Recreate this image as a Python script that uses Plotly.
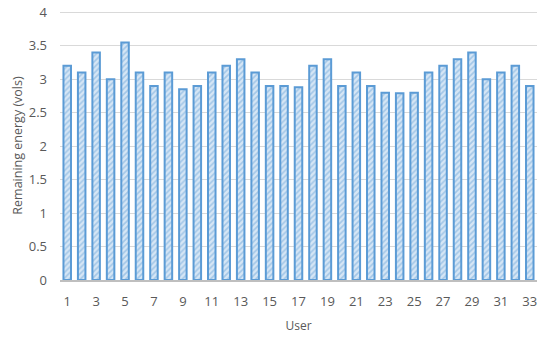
import plotly.graph_objects as go

users = list(range(1, 34))
energy = [3.2, 3.1, 3.4, 3.0, 3.55, 3.1, 2.9, 3.1, 2.85, 2.9, 3.1, 3.2, 3.3, 3.1, 2.9,
          2.9, 2.88, 3.2, 3.3, 2.9, 3.1, 2.9, 2.8, 2.79, 2.8, 3.1, 3.2, 3.3, 3.4, 3.0,
          3.1, 3.2, 2.9]
x_ticks = list(range(1, 34, 2))
y_ticks = [0, 0.5, 1, 1.5, 2, 2.5, 3, 3.5, 4]

fig = go.Figure(go.Bar(
    x=users, y=energy, width=0.52,
    marker=dict(
        color="#C9DEF2",
        line=dict(color="#5B9BD5", width=2),
        pattern=dict(shape="/", fgcolor="#6FA7DA", bgcolor="#D6E6F5", size=4, solidity=0.4),
    ),
))

font = dict(family="Open Sans, Liberation Sans, sans-serif", color="#595959", size=12)
fig.update_layout(
    width=550, height=337,
    margin=dict(l=60, r=13, t=11, b=57),
    paper_bgcolor="white", plot_bgcolor="white",
    font=font, showlegend=False,
    xaxis=dict(
        range=[0.5, 33.5], tickmode="array", tickvals=x_ticks,
        ticktext=[str(v) for v in x_ticks], ticks="", showgrid=False,
        showline=True, linecolor="#BFBFBF", linewidth=2, automargin=False,
        ticklabelstandoff=8, tickfont=dict(size=13),
        title=dict(text="User", font=dict(size=12), standoff=13),
    ),
    yaxis=dict(
        range=[0, 4.02], tickmode="array", tickvals=y_ticks,
        ticktext=[str(v) for v in y_ticks], showgrid=True, gridcolor="#D9D9D9",
        gridwidth=1, zeroline=False, ticks="", ticklabelstandoff=12, automargin=False,
        tickfont=dict(size=13),
        title=dict(text="Remaining energy (vols)", font=dict(size=12.5), standoff=3),
    ),
)
fig.write_html("out.html", post_script="document.body.style.margin='0';",
               config={"displayModeBar": False})
